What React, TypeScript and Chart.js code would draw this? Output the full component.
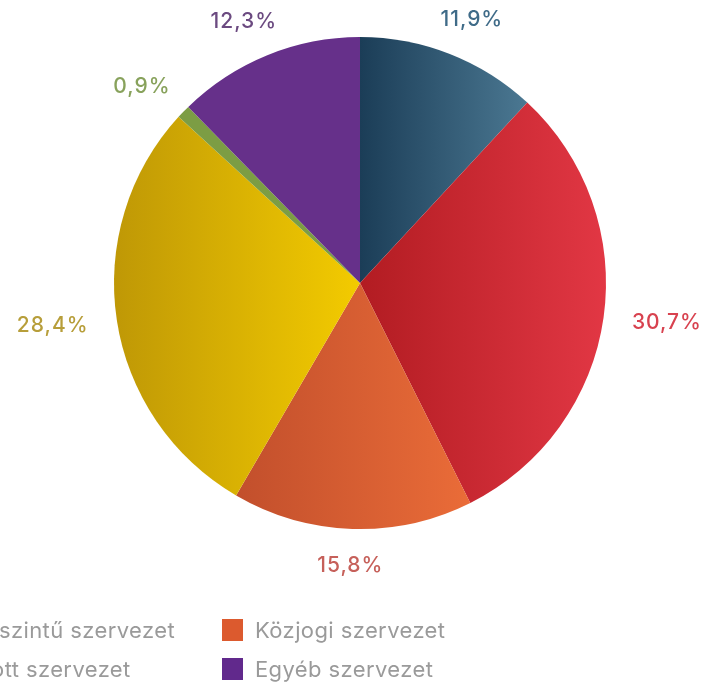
import React, { useEffect, useRef } from "react";
import { Chart, registerables } from "chart.js";

Chart.register(...registerables);

const categories = [
  "Regionális/helyi szintű szervezet",
  "Központi szintű szervezet",
  "Közjogi szervezet",
  "Közszolgáltató szervezet",
  "Támogatott szervezet",
  "Egyéb szervezet",
];
const values = [11.9, 30.7, 15.8, 28.4, 0.9, 12.3];
const valueLabels = ["11,9%", "30,7%", "15,8%", "28,4%", "0,9%", "12,3%"];
const gradientStops = [
  ["#1b3d57", "#4b7892"],
  ["#b21c22", "#e23744"],
  ["#c24f2c", "#ea6c38"],
  ["#bf9806", "#f3cb00"],
  ["#7c9d44", "#7c9d44"],
  ["#66308a", "#66308a"],
];
const legendColors = ["#2e5672", "#cc2a33", "#dc5a2e", "#e0b400", "#7c9d44", "#61298c"];
const labelColors = ["#3f6b88", "#d8424f", "#c6605a", "#b79e3a", "#88a25c", "#6b4a80"];

function sectorXRange(cx: number, r: number, a0: number, a1: number) {
  const xs = [cx, cx + r * Math.cos(a0), cx + r * Math.cos(a1)];
  for (let k = -2; k <= 4; k++) {
    const a = k * Math.PI;
    if (a > a0 && a < a1) xs.push(cx + r * Math.cos(a));
  }
  return [Math.min(...xs), Math.max(...xs)];
}

const labelPlugin = {
  id: "pieLabels",
  afterDatasetsDraw(chart: any) {
    const { ctx } = chart;
    const meta = chart.getDatasetMeta(0);
    ctx.save();
    ctx.font = "500 21px Inter";
    (ctx as any).letterSpacing = "1px";
    ctx.textAlign = "center";
    ctx.textBaseline = "middle";
    const h = 15;
    meta.data.forEach((arc: any, i: number) => {
      const { x, y, startAngle, endAngle, outerRadius } = arc.getProps(
        ["x", "y", "startAngle", "endAngle", "outerRadius"],
        true
      );
      const mid = (startAngle + endAngle) / 2;
      const R = outerRadius + 29;
      const w = ctx.measureText(valueLabels[i]).width;
      const c = Math.cos(mid);
      const s = Math.sin(mid);
      ctx.fillStyle = labelColors[i];
      ctx.fillText(valueLabels[i], x + R * c + (w / 2) * c, y + R * s + (h / 2) * s);
    });
    ctx.restore();
  },
};

export default function App() {
  const canvasRef = useRef<HTMLCanvasElement | null>(null);

  useEffect(() => {
    const canvas = canvasRef.current;
    if (!canvas) return;
    const total = values.reduce((a, b) => a + b, 0);
    const chart = new Chart(canvas, {
      type: "pie",
      data: {
        labels: categories,
        datasets: [
          {
            data: values,
            borderWidth: 0,
            backgroundColor: (c: any) => {
              const ch = c.chart;
              const area = ch.chartArea;
              const i = c.dataIndex;
              if (!area || i === undefined) return legendColors[i ?? 0];
              const cx = (area.left + area.right) / 2;
              const r = Math.min(area.right - area.left, area.bottom - area.top) / 2;
              let before = 0;
              for (let k = 0; k < i; k++) before += values[k];
              const a0 = -Math.PI / 2 + (before / total) * Math.PI * 2;
              const a1 = a0 + (values[i] / total) * Math.PI * 2;
              const [x0, x1] = sectorXRange(cx, r, a0, a1);
              const g = ch.ctx.createLinearGradient(x0, 0, x1, 0);
              g.addColorStop(0, gradientStops[i][0]);
              g.addColorStop(1, gradientStops[i][1]);
              return g;
            },
          },
        ],
      },
      options: {
        animation: false,
        responsive: true,
        maintainAspectRatio: false,
        layout: { padding: { top: 37, bottom: 155, left: 37, right: 37 } },
        plugins: {
          legend: { display: false },
          tooltip: { enabled: false },
        },
      },
      plugins: [labelPlugin],
    });
    return () => chart.destroy();
  }, []);

  return (
    <div
      style={{
        position: "fixed",
        left: 0,
        top: 0,
        width: 702,
        height: 684,
        overflow: "hidden",
        background: "#fff",
        fontFamily: "Inter, sans-serif",
      }}
    >
      <div style={{ position: "absolute", left: 0, top: 0, width: 720, height: 684 }}>
        <canvas ref={canvasRef} />
      </div>
      <div
        style={{
          position: "absolute",
          top: 619,
          right: 240,
          display: "grid",
          gridTemplateColumns: "auto auto 240px",
          columnGap: 47,
          rowGap: 17,
          whiteSpace: "nowrap",
        }}
      >
        {categories.map((c, i) => (
          <div key={c} style={{ display: "flex", alignItems: "center", height: 22 }}>
            <span
              style={{
                display: "inline-block",
                width: 21,
                height: 22,
                background: legendColors[i],
                marginRight: 12,
              }}
            />
            <span style={{ fontSize: 22, letterSpacing: 0.4, color: "#9a9a9a" }}>{c}</span>
          </div>
        ))}
      </div>
    </div>
  );
}
